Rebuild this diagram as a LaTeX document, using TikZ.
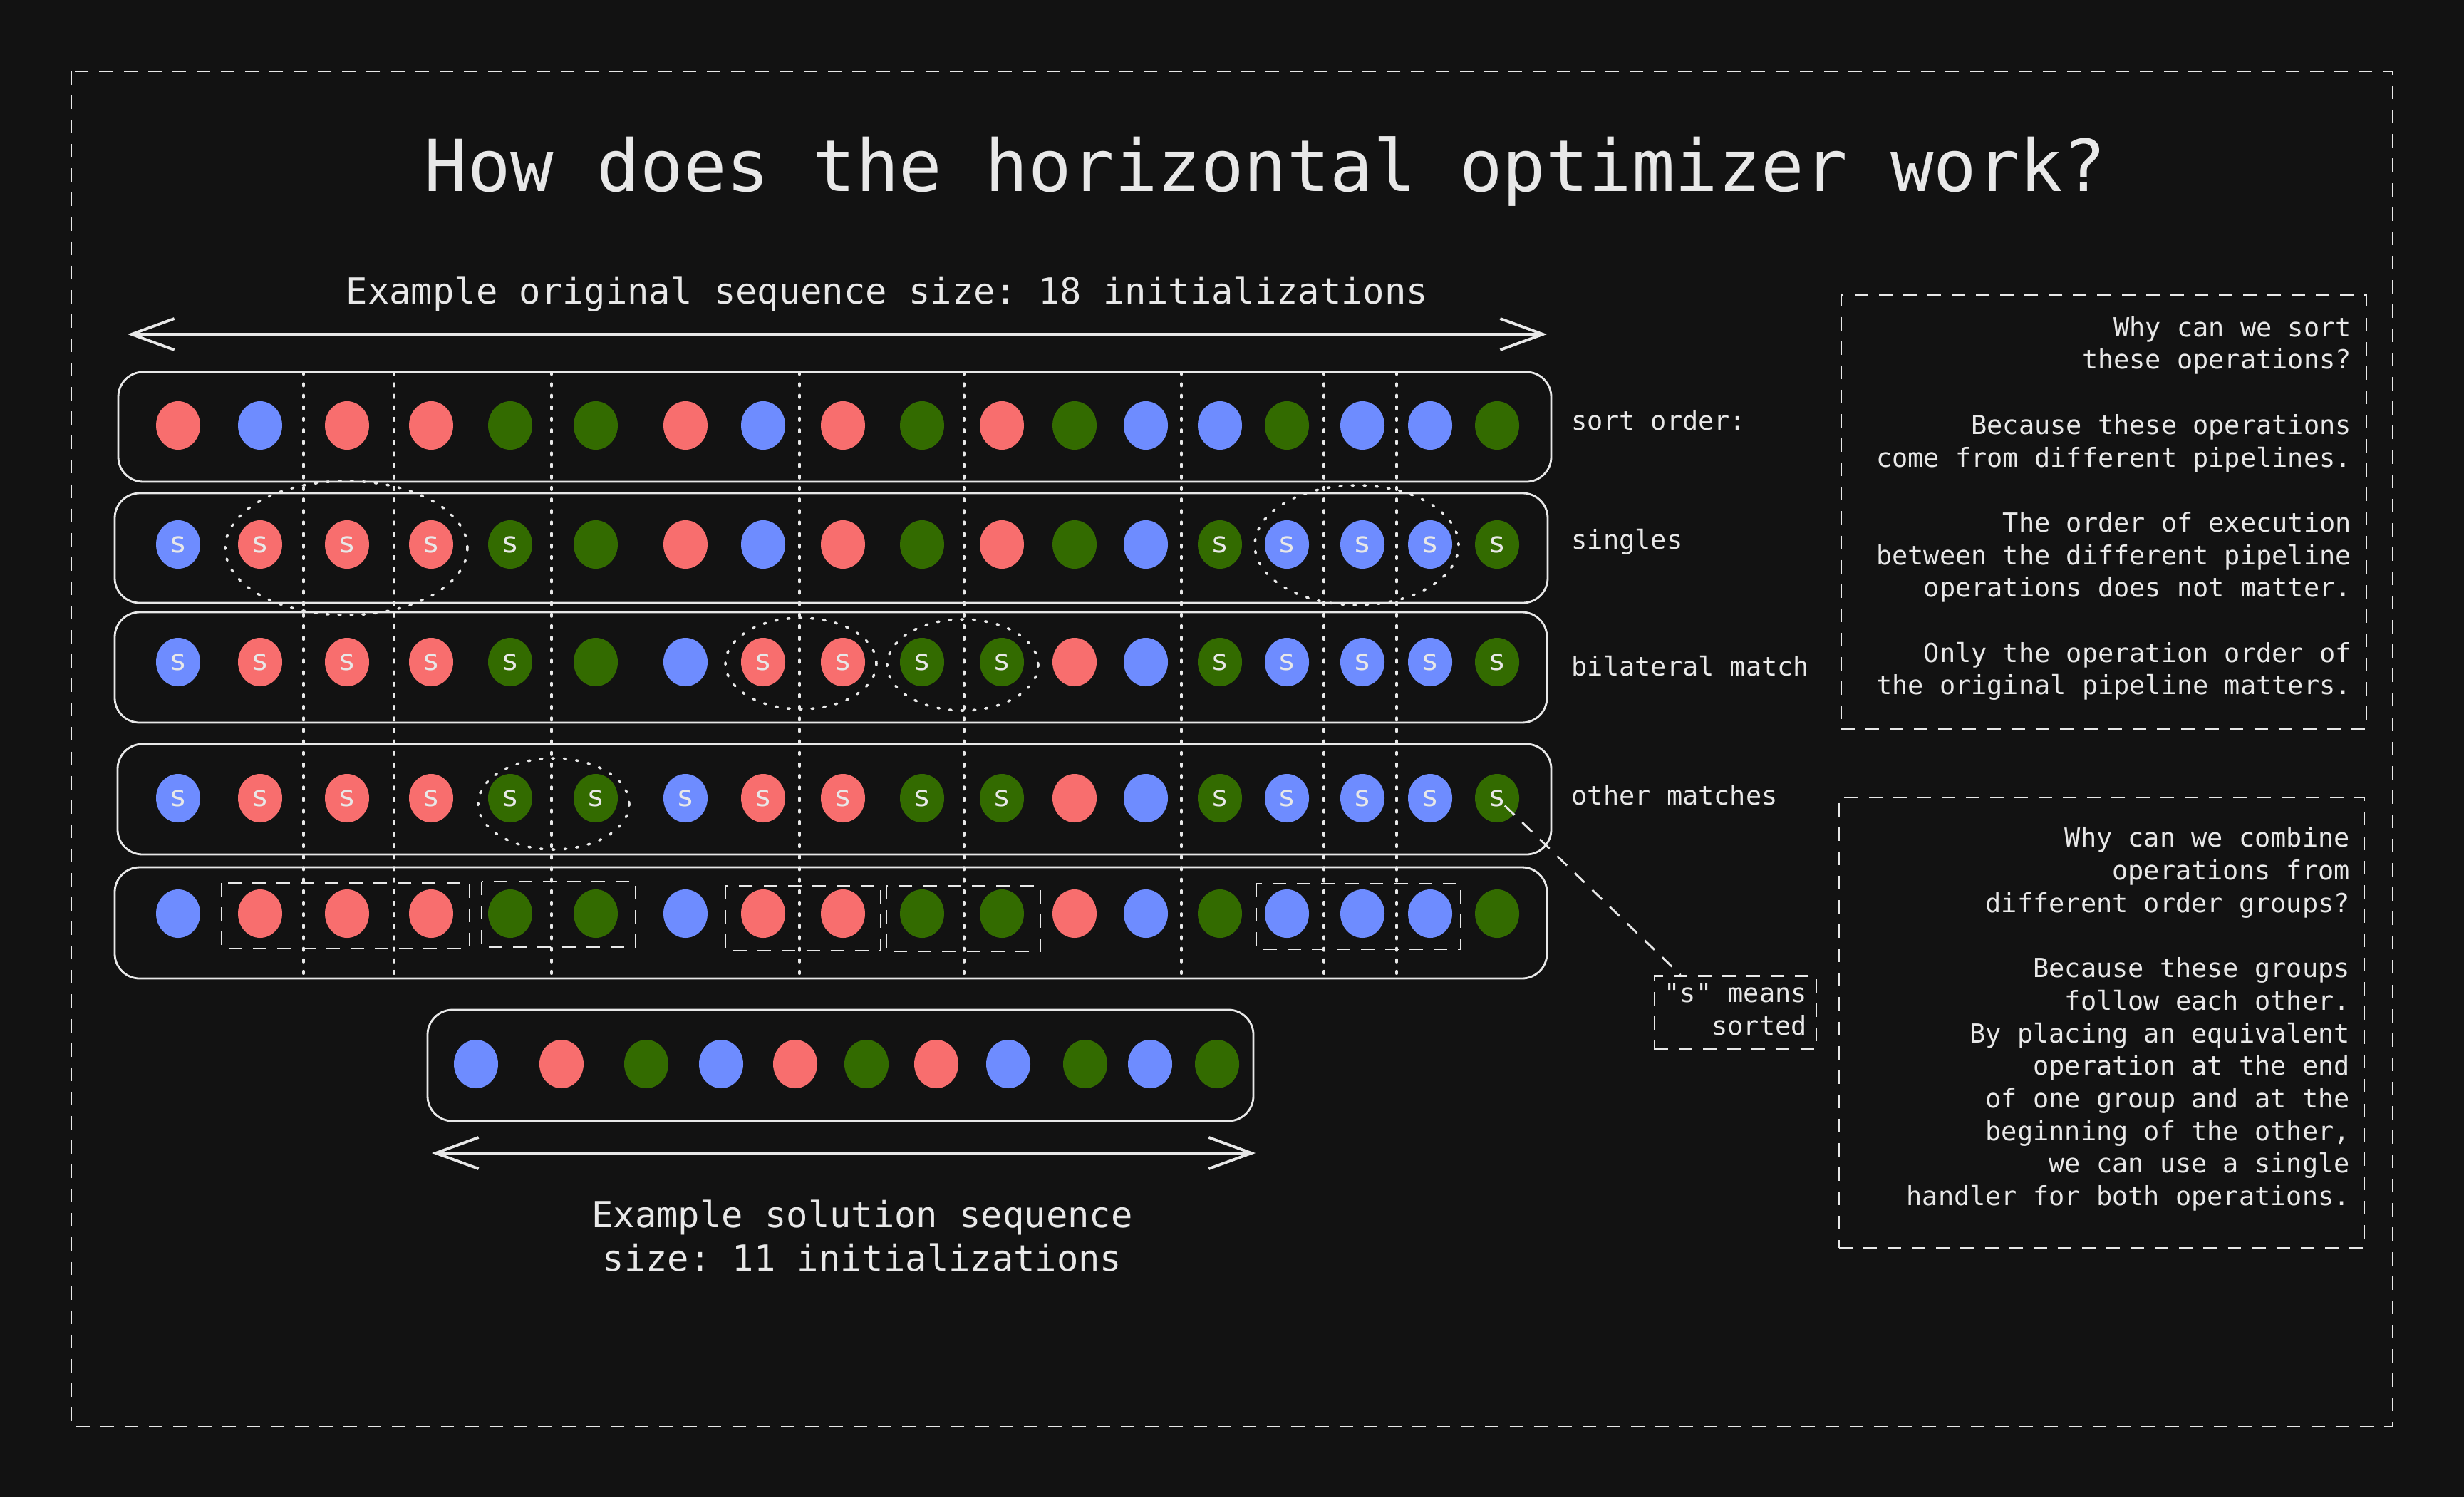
\documentclass[tikz,border=0pt]{standalone}
\usepackage{fontspec}
\setmonofont{DejaVu Sans Mono}
\renewcommand*\familydefault{\ttdefault}
\newfontfamily\dotfont{DejaVu Sans}
\usetikzlibrary{shapes.geometric,arrows.meta,positioning}
\definecolor{bg}{HTML}{121212}
\definecolor{ink}{HTML}{E8E8E8}
\definecolor{dotr}{HTML}{F86E6E}
\definecolor{dotb}{HTML}{6E8CFF}
\definecolor{dotg}{HTML}{336B00}
\def\colx{{2.50,3.65,4.87,6.05,7.16,8.36,9.62,10.71,11.83,12.94,14.06,15.08,16.08,17.12,18.06,19.12,20.07,21.01}}
\newcommand\dotrow[3]{\foreach \col/\mk [count=\i] in {#3} {\pgfmathsetmacro\px{\colx[\i-1]}\node[dot, fill=dot\col] (#1c\i) at (\px,#2) {\mk};}}
\begin{document}
\begin{tikzpicture}[x=1cm, y=-1cm, line cap=round,
  dot/.style={ellipse, minimum width=6.2mm, minimum height=6.8mm, inner sep=0pt, text=ink, font=\dotfont\fontsize{11.5pt}{12pt}\selectfont},
  rowbox/.style={draw=ink, line width=0.8pt, rounded corners=3.5mm},
  sep/.style={draw=ink, line width=1pt, dash pattern=on 1pt off 3.6pt},
  ring/.style={draw=ink, line width=1pt, dash pattern=on 0.8pt off 4pt},
  group/.style={draw=ink, line width=0.8pt, dash pattern=on 5.4pt off 4.3pt, line cap=butt},
  span/.style={draw=ink, line width=1.1pt, >={Straight Barb[length=6mm,width=4.4mm]}, <->},
  lbl/.style={anchor=base west, inner sep=0pt, text=ink, font=\fontsize{10.5pt}{13pt}\selectfont},
  notebox/.style={group, inner sep=0pt},
  notetext/.style={align=right, inner sep=0pt, text=ink, font=\fontsize{10.5pt}{13pt}\selectfont},
  big/.style={text=ink, font=\fontsize{14.35pt}{17.4pt}\selectfont}]
\fill[bg] (0,0) rectangle (34.58,21.01);
\draw[group] (1.00,1.00) rectangle (33.58,20.02);
\node[anchor=base, text=ink, font=\fontsize{28.6pt}{34pt}\selectfont] (title) at (17.76,2.68) {How does the horizontal optimizer work?};
\node[big, anchor=base] (origlbl) at (12.45,4.26) {Example original sequence size: 18 initializations};
\coordinate (origa) at (1.79,4.69);
\coordinate (origb) at (21.71,4.69);
\draw[span] (origa) -- (origb);
\draw[rowbox] (1.66,5.22) rectangle (21.77,6.76);
\draw[rowbox] (1.61,6.92) rectangle (21.72,8.46);
\draw[rowbox] (1.61,8.59) rectangle (21.71,10.14);
\draw[rowbox] (1.65,10.44) rectangle (21.77,11.99);
\draw[rowbox] (1.61,12.17) rectangle (21.71,13.73);
\foreach \x in {4.26,5.53,7.74,11.22,13.53,16.58,18.58,19.60} \draw[sep] (\x,5.22) -- (\x,13.70);
\dotrow{r1}{5.97}{r/,b/,r/,r/,g/,g/,r/,b/,r/,g/,r/,g/,b/,b/,g/,b/,b/,g/}
\dotrow{r2}{7.64}{b/s,r/s,r/s,r/s,g/s,g/,r/,b/,r/,g/,r/,g/,b/,g/s,b/s,b/s,b/s,g/s}
\dotrow{r3}{9.29}{b/s,r/s,r/s,r/s,g/s,g/,b/,r/s,r/s,g/s,g/s,r/,b/,g/s,b/s,b/s,b/s,g/s}
\dotrow{r4}{11.20}{b/s,r/s,r/s,r/s,g/s,g/s,b/s,r/s,r/s,g/s,g/s,r/,b/,g/s,b/s,b/s,b/s,g/s}
\dotrow{r5}{12.82}{b/,r/,r/,r/,g/,g/,b/,r/,r/,g/,g/,r/,b/,g/,b/,b/,b/,g/}
\draw[ring] (4.86,7.69) ellipse (1.70cm and 0.94cm);
\draw[ring] (19.04,7.65) ellipse (1.43cm and 0.84cm);
\draw[ring] (11.24,9.31) ellipse (1.06cm and 0.64cm);
\draw[ring] (13.51,9.33) ellipse (1.06cm and 0.64cm);
\draw[ring] (7.77,11.28) ellipse (1.06cm and 0.64cm);
\draw[group] (3.11,12.39) rectangle (6.59,13.31);
\draw[group] (6.76,12.37) rectangle (8.92,13.29);
\draw[group] (10.18,12.43) rectangle (12.36,13.34);
\draw[group] (12.44,12.43) rectangle (14.60,13.35);
\draw[group] (17.63,12.40) rectangle (20.50,13.32);
\node[lbl] (lsort) at (22.05,6.03) {sort order:};
\node[lbl] (lsingle) at (22.05,7.70) {singles};
\node[lbl] (lbilat) at (22.05,9.48) {bilateral match};
\node[lbl] (lother) at (22.05,11.29) {other matches};
\draw[rowbox] (6.00,14.17) rectangle (17.59,15.73);
\foreach \x/\col [count=\i] in {6.68/b,7.88/r,9.07/g,10.12/b,11.16/r,12.16/g,13.14/r,14.15/b,15.23/g,16.14/b,17.08/g} \node[dot, fill=dot\col] (sol\i) at (\x,14.93) {};
\coordinate (sola) at (6.06,16.18);
\coordinate (solb) at (17.62,16.18);
\draw[span] (sola) -- (solb);
\node[big, align=center] (sollbl) at (12.10,17.34) {Example solution sequence\\size: 11 initializations};
\node[notebox, minimum width=7.37cm, minimum height=6.09cm] (whysort) at (29.525,7.185) {};
\node[notetext, left=2.2mm of whysort.east, yshift=0.5mm] (whysorttxt) {Why can we sort\\these operations?\\[13pt]Because these operations\\come from different pipelines.\\[13pt]The order of execution\\between the different pipeline\\operations does not matter.\\[13pt]Only the operation order of\\the original pipeline matters.};
\node[notebox, minimum width=7.37cm, minimum height=6.32cm] (whycombine) at (29.495,14.35) {};
\node[notetext, left=2.1mm of whycombine.east, yshift=0.5mm] (whycombinetxt) {Why can we combine\\operations from\\different order groups?\\[13pt]Because these groups\\follow each other.\\By placing an equivalent\\operation at the end\\of one group and at the\\beginning of the other,\\we can use a single\\handler for both operations.};
\node[notebox, minimum width=2.27cm, minimum height=1.03cm] (legend) at (24.355,14.21) {};
\node[notetext, left=1.4mm of legend.east, yshift=0.5mm] (legendtxt) {"s" means\\sorted};
\draw[group, shorten <=1.5mm] (r4c18.center) -- ([xshift=3.8mm]legend.north west);
\end{tikzpicture}
\end{document}
